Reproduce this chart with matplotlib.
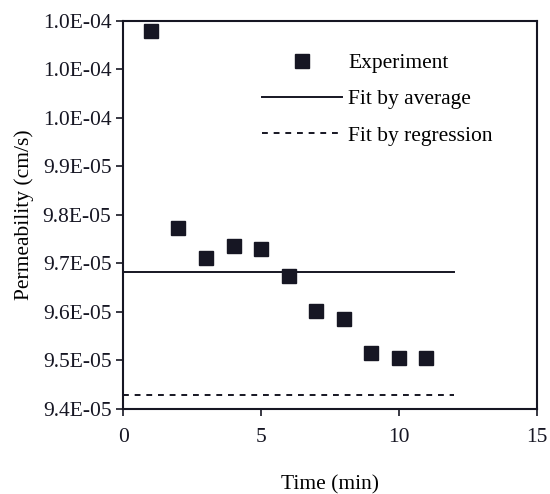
import numpy as np
import matplotlib
matplotlib.use("Agg")
import matplotlib.pyplot as plt
from matplotlib.ticker import FormatStrFormatter

plt.rcParams['font.family'] = ['Liberation Serif', 'DejaVu Serif']

# data
time_min = [1, 2, 3, 4, 5, 6, 7, 8, 9, 10, 11]
permeability = [1.0179e-4, 9.773e-5, 9.712e-5, 9.736e-5, 9.730e-5, 9.673e-5,
                9.601e-5, 9.585e-5, 9.515e-5, 9.505e-5, 9.505e-5]
fit_x = [0, 12]
fit_average = [9.683e-5, 9.683e-5]
fit_regression = [9.429e-5, 9.429e-5]
y_ticks = np.arange(94, 103) * 1e-6
x_ticks = [0, 5, 10, 15]

fig = plt.figure(figsize=(5.5, 4.94), dpi=100)
ax = fig.add_axes([123.3 / 550, 85 / 494, (536.7 - 123.3) / 550, (409 - 20.7) / 494])

ax.plot(time_min, permeability, 's', color='#161623', ms=10.5, label='Experiment')
ax.plot(fit_x, fit_average, '-', color='#161623', lw=1.4, label='Fit by average')
ax.plot(fit_x, fit_regression, '--', color='#161623', lw=1.4, dashes=(3, 3),
        label='Fit by regression')

ax.set_xlim(0, 15)
ax.set_ylim(y_ticks[0], y_ticks[-1])
ax.set_xticks(x_ticks)
ax.set_yticks(y_ticks)
ax.yaxis.set_major_formatter(FormatStrFormatter('%.1E'))
ax.tick_params(direction='out', length=5, width=1.2, labelsize=15.5, colors='#161623')
ax.tick_params(axis='x', pad=9)
for s in ax.spines.values():
    s.set_linewidth(1.5)
    s.set_color('#161623')

ax.set_xlabel('Time (min)', fontsize=15.5, labelpad=20)
ax.set_ylabel('Permeability (cm/s)', fontsize=15.5, labelpad=6)

ax.legend(loc='upper left', bbox_to_anchor=(262 / 550, 1 - 53 / 494),
          bbox_transform=fig.transFigure, frameon=False, fontsize=15.5,
          borderpad=0, borderaxespad=0, handlelength=3.7, handletextpad=0.3,
          labelspacing=0.75)

fig.savefig('out.png', dpi=100)
